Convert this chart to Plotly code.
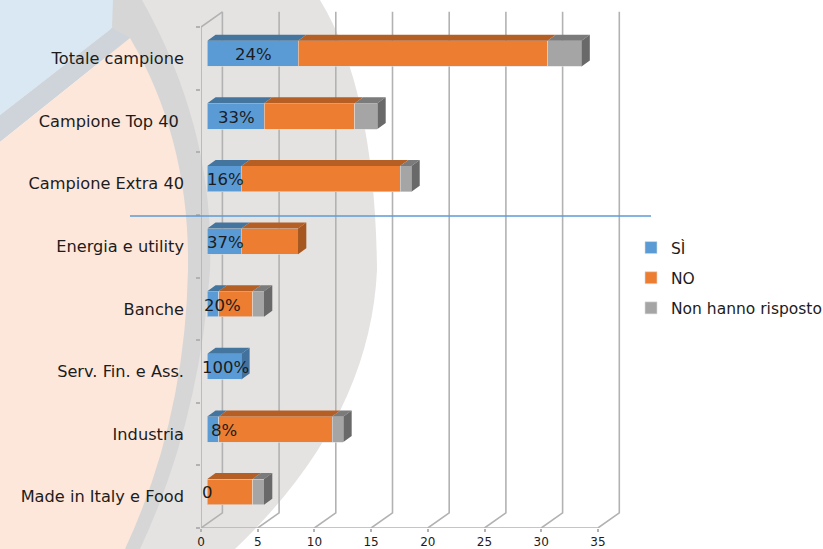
import plotly.graph_objects as go

categories = ["Totale campione", "Campione Top 40\u00a0", "Campione Extra 40", "Energia e utility",
              "Banche", "Serv. Fin. e Ass.", "Industria", "Made in Italy e Food"]
si = [8, 5, 3, 3, 1, 3, 1, 0]
no = [22, 8, 14, 5, 3, 0, 10, 4]
nr = [3, 2, 1, 0, 1, 0, 1, 1]
si_labels = ["24%", "33%", "16%", "37%", "20%", "100%", "8%", "0"]
x_ticks = [0, 5, 10, 15, 20, 25, 30, 35]

W, H = 823, 549
FONT = "DejaVu Sans"
TXT = "#1c1c1c"
GRID = "#b2b2b2"
label_xshift = [1, 1, 1, 1, 10, 1.5, 11, 0]

ppx, ppy = 11.34, 62.62      # pixels per x unit / per category
x0, ybot = 201.0, 528.0
bx0, bybot = 207.3, 523.2
BAR_H = 0.205
DX, DY = 21.4 / ppx, 15.2 / ppy       # wall depth
dx, dy = 8.3 / ppx, 6.0 / ppy         # bar depth

xspan, yspan = 37.4, 8.3
pos = list(range(len(categories)))


def poly(points, color):
    xs, ys = [], []
    for p in points:
        xs += [q[0] for q in p] + [p[0][0], None]
        ys += [q[1] for q in p] + [p[0][1], None]
    return go.Scatter(x=xs, y=ys, xaxis="x2", yaxis="y2", mode="lines", fill="toself", fillcolor=color,
                      line=dict(width=0, color=color), showlegend=False, hoverinfo="skip", cliponaxis=False)


fig = go.Figure()

# walls and floor
wx, wy = [], []
for v in x_ticks:
    wx += [v, v + DX, v + DX, None]
    wy += [7.5, 7.5 - DY, -0.5 - DY, None]
wx += [0, 35, None, 0, 0, DX]
wy += [7.5, 7.5, None, 7.5, -0.5, -0.5 - DY]
fig.add_trace(go.Scatter(x=wx, y=wy, mode="lines", line=dict(color=GRID, width=1.6),
                         showlegend=False, hoverinfo="skip", cliponaxis=False))

series = [("SÌ", si, "#5b9bd5", "#44759f", "#41719c"),
          ("NO", no, "#ed7d31", "#b55f24", "#a5571f"),
          ("Non hanno risposto", nr, "#a5a5a5", "#7b7b7b", "#696969")]

for name, vals, col, _, _ in series:
    fig.add_trace(go.Bar(name=name, x=vals, y=pos, orientation="h", xaxis="x2", yaxis="y2",
                         marker=dict(color=col, line=dict(width=0.6, color="#dcdcdc")), legendgroup=name))

tops = {s[0]: [] for s in series}
sides = {s[0]: [] for s in series}
for i in pos:
    left = 0
    last = None
    for name, vals, _, _, _ in series:
        v = vals[i]
        if v > 0:
            r = left + v
            tops[name].append([(left, i - BAR_H), (r, i - BAR_H), (r + dx, i - BAR_H - dy), (left + dx, i - BAR_H - dy)])
            left = r
            last = name
    sides[last].append([(left, i - BAR_H), (left + dx, i - BAR_H - dy), (left + dx, i + BAR_H - dy), (left, i + BAR_H)])
for name, _, _, tc, sc in series:
    fig.add_trace(poly(tops[name], tc))
    fig.add_trace(poly(sides[name], sc))

annotations = [dict(x=si[i] / 2, y=i, xref="x2", yref="y2", text=si_labels[i], showarrow=False,
                    xshift=label_xshift[i], yshift=-1, font=dict(family=FONT, size=16.5, color=TXT))
               for i in pos]

bg = [
    ("M 125 0 L 320 0 Q 375 90 377 270 Q 370 420 235 549 L 100 549 Z", "#e4e3e2"),
    ("M 112 0 L 142 0 Q 215 130 210 270 Q 200 420 140 549 L 110 549 L 100 300 Z", "#d6d6d6"),
    ("M 0 115 L 112 28 L 113 0 L 0 0 Z", "#d9e8f3"),
    ("M 0 115 L 112 28 L 130 38 L 0 142 Z", "#ced4da"),
    ("M 0 142 L 130 38 Q 190 140 188 270 Q 185 420 125 549 L 0 549 Z", "#fde7db"),
]
shapes = []
for path, color in bg:
    # decorative backdrop, given in normalised page coordinates
    toks = path.split()
    out, n = [], 0
    for t in toks:
        if t.isalpha():
            out.append(t)
        else:
            out.append(f"{float(t) / W:.5f}" if n % 2 == 0 else f"{1 - float(t) / H:.5f}")
            n += 1
    shapes.append(dict(type="path", xref="paper", yref="paper", path=" ".join(out),
                       fillcolor=color, line=dict(width=0), layer="below"))
shapes.append(dict(type="line", xref="paper", yref="paper", x0=130 / W, x1=651 / W,
                   y0=1 - 216 / H, y1=1 - 216 / H, line=dict(color="#5b9bd5", width=1.5)))

fig.update_layout(
    width=W, height=H, margin=dict(l=0, r=0, t=0, b=0, autoexpand=False), autosize=False,
    paper_bgcolor="white", plot_bgcolor="rgba(0,0,0,0)",
    barmode="stack", bargap=0.59, shapes=shapes, annotations=annotations,
    font=dict(family=FONT, color=TXT),
    xaxis=dict(domain=[x0 / W, (x0 + xspan * ppx) / W], range=[0, xspan], anchor="y", tickmode="array",
               tickvals=x_ticks, showgrid=False, zeroline=False, ticks="outside", ticklen=3, automargin=False,
               tickcolor=GRID, tickwidth=1.5, ticklabelstandoff=0, tickfont=dict(family=FONT, size=12, color=TXT)),
    yaxis=dict(domain=[1 - ybot / H, 1 - (ybot - yspan * ppy) / H], range=[7.5, 7.5 - yspan], anchor="x",
               tickmode="array", tickvals=pos, ticktext=categories, showgrid=False, zeroline=False, ticks="",
               automargin=False, ticklabelstandoff=16, tickfont=dict(family=FONT, size=16.2, color=TXT),
               minor=dict(tickvals=[p - 0.5 for p in pos] + [7.5], ticks="outside", ticklen=4,
                          tickcolor=GRID, tickwidth=1.5, showgrid=False)),
    xaxis2=dict(domain=[bx0 / W, (bx0 + xspan * ppx) / W], range=[0, xspan], anchor="y2", visible=False, automargin=False),
    yaxis2=dict(domain=[1 - bybot / H, 1 - (bybot - (yspan - 0.1) * ppy) / H], range=[7.5, 7.5 - (yspan - 0.1)],
                anchor="x2", visible=False, automargin=False),
    legend=dict(x=631 / W, y=1 - 231 / H, xanchor="left", yanchor="top", tracegroupgap=7,
                bgcolor="rgba(0,0,0,0)", font=dict(family=FONT, size=15.5, color=TXT), traceorder="grouped"),
)

fig.write_html("out.html", post_script="document.body.style.margin='0';",
               config={"displayModeBar": False})
